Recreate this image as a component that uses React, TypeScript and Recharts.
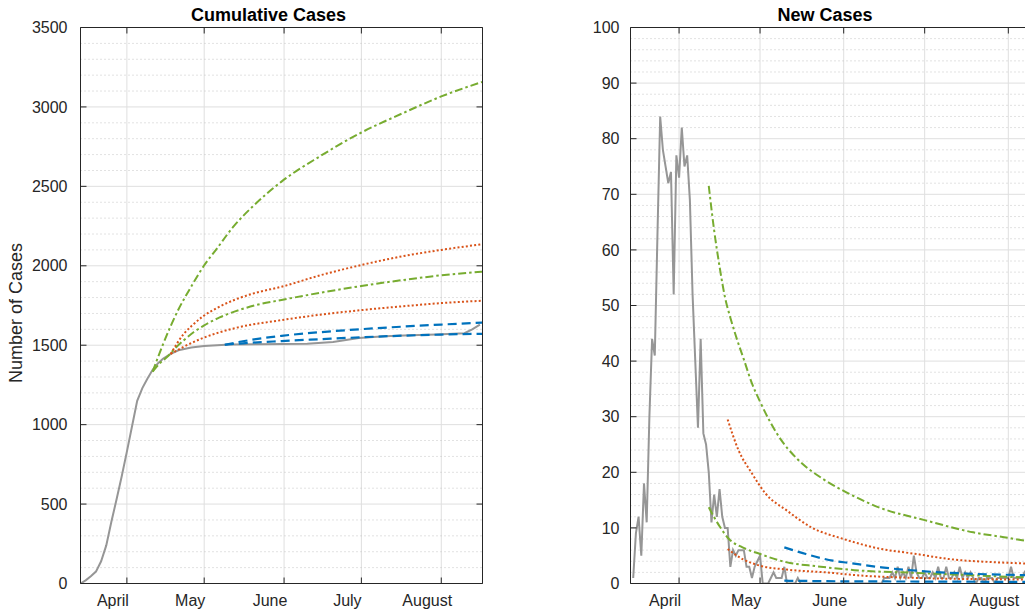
import { LineChart, Line, XAxis, YAxis, CartesianGrid, ReferenceLine } from "recharts";

// t = days since 1 April
const monthTicks = [0, 30, 61, 91, 122];
const monthNames = ["April", "May", "June", "July", "August"];
const dayDomain: [number, number] = [-18, 138];

const cumTicks = [0, 500, 1000, 1500, 2000, 2500, 3000, 3500];
const newTicks = [0, 10, 20, 30, 40, 50, 60, 70, 80, 90, 100];

// observed cumulative cases
const cumObserved: [number, number][] = [
  [-18, 0], [-16, 20], [-14, 45], [-12, 75], [-10, 140], [-8, 240], [-6, 390], [-4, 530],
  [-2, 675], [0, 830], [2, 990], [4, 1150], [6, 1230], [8, 1290], [10, 1345], [12, 1385],
  [14, 1415], [17, 1445], [20, 1468], [25, 1485], [30, 1495], [35, 1500], [40, 1504],
  [50, 1506], [60, 1508], [70, 1510], [80, 1520], [90, 1545], [100, 1556], [110, 1562],
  [120, 1568], [131, 1576], [134, 1600], [137, 1630],
];

// projections, cumulative
const cumGreenHigh: [number, number][] = [
  [10, 1334], [14, 1505], [20, 1725], [25, 1870], [30, 2003], [35, 2110], [41, 2240],
  [49, 2376], [60, 2530], [75, 2690], [91, 2839], [107, 2960], [122, 3066], [138, 3158],
];
const cumGreenLow: [number, number][] = [
  [10, 1334], [13, 1390], [16, 1432], [18, 1468], [22, 1530], [26, 1583], [30, 1625],
  [36, 1675], [42, 1713], [50, 1752], [60, 1785], [75, 1830], [91, 1873], [107, 1910],
  [122, 1940], [138, 1963],
];
const cumOrangeHigh: [number, number][] = [
  [17, 1445], [22, 1570], [25, 1620], [29.5, 1681], [35, 1735], [42, 1787], [50, 1830],
  [60, 1868], [75, 1940], [91, 2005], [107, 2060], [122, 2100], [138, 2136],
];
const cumOrangeLow: [number, number][] = [
  [17, 1445], [22, 1490], [29.5, 1545], [42, 1608], [60, 1658], [75, 1692], [91, 1721],
  [107, 1745], [122, 1765], [138, 1780],
];
const cumBlueHigh: [number, number][] = [
  [38, 1503], [45, 1525], [60, 1559], [75, 1582], [91, 1601], [107, 1617], [122, 1630], [138, 1642],
];
const cumBlueLow: [number, number][] = [
  [38, 1503], [45, 1512], [60, 1526], [75, 1538], [91, 1550], [107, 1560], [122, 1567], [138, 1572],
];

// observed daily new cases, first value is 14 March (t = -17)
const firstDailyDay = -17;
const dailyObserved = [
  1, 9, 12, 5, 18, 11, 30, 44, 41, 63,
  84, 78, 75, 72, 74, 52, 77, 73, 82, 75, 77, 69,
  52, 40, 28, 44, 27, 25, 20, 11, 16, 12, 17, 12, 10, 10,
  3, 6, 5, 6, 6, 6, 3, 3, 1, 3, 4, 5,
  0, 0, 0, 1, 2, 1, 1, 1, 3, 0, 0, 0, 0, 1,
  0, 0, 0, 0, 0, 0, 0, 0, 0, 0, 0, 0, 0, 0, 0, 0, 0, 0, 0, 0, 0, 0, 0, 0, 0, 0, 0, 0, 0, 0, 0,
  1, 1, 1, 2, 1, 3, 1, 2, 1, 3, 1, 5, 2, 1, 1,
  2, 1, 1, 2, 1, 3, 1, 1, 3, 1, 1, 2, 1, 3, 1, 2, 1, 2, 1,
  0, 1, 1, 0, 1, 1, 1, 0, 1, 1, 1, 1, 1, 3, 1, 1, 1, 1, 2,
  1, 1, 2, 4, 8, 12, 14, 12, 8,
];

// projections, daily
const newGreenHigh: [number, number][] = [
  [11, 71.5], [13, 63.5], [15, 57], [17, 51.5], [19, 47.8], [21, 44.6], [24, 40.3], [27, 36],
  [30, 32.7], [37, 26.4], [44, 22.3], [53, 18.9], [62, 16.4], [74, 13.7], [91, 11.4],
  [109, 9.2], [122, 8.2], [128, 7.7], [138, 7.1],
];
const newGreenLow: [number, number][] = [
  [11, 13.7], [15, 10.3], [18.5, 8.0], [23.5, 6.5], [30, 5.3], [40, 3.8], [51, 3.1],
  [65, 2.4], [88, 1.9], [108, 1.5], [128, 1.1], [138, 1.0],
];
const newOrangeHigh: [number, number][] = [
  [18, 29.5], [22, 24], [27, 19.8], [32, 16.2], [40, 13.1], [49, 10.1], [61, 8.0],
  [74, 6.3], [88, 5.3], [100, 4.4], [118, 3.8], [128, 3.6], [138, 3.3],
];
const newOrangeLow: [number, number][] = [
  [18, 6.2], [23.5, 4.4], [30, 3.2], [40, 2.5], [57, 1.9], [63, 1.6], [88, 1.0], [128, 0.7], [138, 0.65],
];
const newBlueHigh: [number, number][] = [
  [39, 6.5], [47, 5.3], [57, 4.1], [63, 3.7], [75, 2.9], [88, 2.3], [106, 1.8], [128, 1.5], [138, 1.4],
];
const newBlueLow: [number, number][] = [
  [39, 0.5], [60, 0.4], [90, 0.35], [128, 0.3], [138, 0.3],
];

const FONT = "'Liberation Sans', Arial, Helvetica, sans-serif";
const TEXT = "#262626";
const AXIS = "#262626";
const GRID = "#dfdfdf";
const MINOR = "#c4c4c4";

const GRAY = "#969696";
const GREEN = "#77AC30";
const ORANGE = "#D95319";
const BLUE = "#0072BD";

const toPts = (pairs: [number, number][]) => pairs.map(([t, v]) => ({ t, v }));

const dailyPts = dailyObserved.map((v, i) => ({ t: firstDailyDay + i, v }));

type Series = { data: { t: number; v: number }[]; color: string; dash?: string; width: number; smooth: boolean };

const cumSeries: Series[] = [
  { data: toPts(cumObserved), color: GRAY, width: 2, smooth: false },
  { data: toPts(cumGreenHigh), color: GREEN, dash: "8 3 2.5 3", width: 2, smooth: true },
  { data: toPts(cumGreenLow), color: GREEN, dash: "8 3 2.5 3", width: 2, smooth: true },
  { data: toPts(cumOrangeHigh), color: ORANGE, dash: "2 2.2", width: 2, smooth: true },
  { data: toPts(cumOrangeLow), color: ORANGE, dash: "2 2.2", width: 2, smooth: true },
  { data: toPts(cumBlueHigh), color: BLUE, dash: "9 5", width: 2.2, smooth: true },
  { data: toPts(cumBlueLow), color: BLUE, dash: "9 5", width: 2.2, smooth: true },
];

const newSeries: Series[] = [
  { data: dailyPts, color: GRAY, width: 2, smooth: false },
  { data: toPts(newGreenHigh), color: GREEN, dash: "8 3 2.5 3", width: 2, smooth: true },
  { data: toPts(newGreenLow), color: GREEN, dash: "8 3 2.5 3", width: 2, smooth: true },
  { data: toPts(newOrangeHigh), color: ORANGE, dash: "2 2.2", width: 2, smooth: true },
  { data: toPts(newOrangeLow), color: ORANGE, dash: "2 2.2", width: 2, smooth: true },
  { data: toPts(newBlueHigh), color: BLUE, dash: "9 5", width: 2.2, smooth: true },
  { data: toPts(newBlueLow), color: BLUE, dash: "9 5", width: 2.2, smooth: true },
];

const BottomTick = (props: any) => {
  const { x, y, payload } = props;
  const i = monthTicks.indexOf(payload.value);
  return (
    <g>
      <line x1={x} x2={x} y1={y} y2={y - 6} stroke={AXIS} />
      <text x={x - 14} y={y + 22} textAnchor="middle" fontSize={16} fill={TEXT} fontFamily={FONT}>
        {monthNames[i]}
      </text>
    </g>
  );
};

const TopTick = (props: any) => (
  <line x1={props.x} x2={props.x} y1={props.y} y2={props.y + 6} stroke={AXIS} />
);

const makeLeftTick = (gap: number) => (props: any) => {
  const { x, y, payload } = props;
  return (
    <g>
      <line x1={x} x2={x + 6} y1={y} y2={y} stroke={AXIS} />
      <text x={x - gap} y={y + 5.7} textAnchor="end" fontSize={16} fill={TEXT} fontFamily={FONT}>
        {payload.value}
      </text>
    </g>
  );
};

const RightTick = (props: any) => (
  <line x1={props.x} x2={props.x - 6} y1={props.y} y2={props.y} stroke={AXIS} />
);

type PanelProps = {
  left: number;
  width: number;
  margin: { top: number; right: number; bottom: number; left: number };
  yMax: number;
  yTicks: number[];
  minorStep: number;
  labelGap: number;
  series: Series[];
};

// axes get a 1px size (a 0 size axis is not drawn), margins are reduced by that pixel
const Panel = ({ left, width, margin, yMax, yTicks, minorStep, labelGap, series }: PanelProps) => {
  const majorStep = yTicks[1] - yTicks[0];
  const minor: number[] = [];
  for (let v = minorStep; v < yMax; v += minorStep) {
    if (Math.abs(v / majorStep - Math.round(v / majorStep)) > 1e-6) minor.push(v);
  }
  const m = { top: margin.top - 1, right: margin.right - 1, bottom: margin.bottom - 1, left: margin.left - 1 };
  return (
    <div style={{ position: "absolute", left, top: 0 }}>
      <LineChart width={width} height={613} margin={m}>
        <CartesianGrid stroke={GRID} strokeWidth={1} />
        {minor.map((v) => (
          <ReferenceLine key={v} y={v} stroke={MINOR} strokeDasharray="1 3" strokeWidth={1} />
        ))}
        <XAxis
          dataKey="t"
          type="number"
          domain={dayDomain}
          allowDataOverflow
          ticks={monthTicks}
          height={1}
          tickSize={0}
          tickMargin={0}
          tickLine={false}
          axisLine={{ stroke: AXIS }}
          tick={BottomTick}
          interval={0}
        />
        <XAxis
          xAxisId="top"
          orientation="top"
          dataKey="t"
          type="number"
          domain={dayDomain}
          allowDataOverflow
          ticks={monthTicks}
          height={1}
          tickSize={0}
          tickMargin={0}
          tickLine={false}
          axisLine={{ stroke: AXIS }}
          tick={TopTick}
          interval={0}
        />
        <YAxis
          type="number"
          domain={[0, yMax]}
          allowDataOverflow
          ticks={yTicks}
          width={1}
          tickSize={0}
          tickMargin={0}
          tickLine={false}
          axisLine={{ stroke: AXIS }}
          tick={makeLeftTick(labelGap)}
          interval={0}
        />
        <YAxis
          yAxisId="right"
          orientation="right"
          type="number"
          domain={[0, yMax]}
          allowDataOverflow
          ticks={yTicks}
          width={1}
          tickSize={0}
          tickMargin={0}
          tickLine={false}
          axisLine={{ stroke: AXIS }}
          tick={RightTick}
          interval={0}
        />
        {series.map((s, i) => (
          <Line
            key={i}
            data={s.data}
            dataKey="v"
            type={s.smooth ? "monotone" : "linear"}
            stroke={s.color}
            strokeWidth={s.width}
            strokeDasharray={s.dash}
            dot={false}
            activeDot={false}
            isAnimationActive={false}
          />
        ))}
      </LineChart>
    </div>
  );
};

export default function App() {
  return (
    <div
      style={{
        position: "absolute",
        left: 0,
        top: 0,
        width: 1025,
        height: 613,
        overflow: "hidden",
        background: "#fff",
        fontFamily: FONT,
      }}
    >
      <Panel
        left={0}
        width={500}
        margin={{ top: 27.5, right: 17.5, bottom: 29.5, left: 80.5 }}
        yMax={3500}
        yTicks={cumTicks}
        minorStep={100}
        labelGap={13}
        series={cumSeries}
      />
      <Panel
        left={580}
        width={500}
        margin={{ top: 27.5, right: 28.5, bottom: 29.5, left: 50.5 }}
        yMax={100}
        yTicks={newTicks}
        minorStep={2}
        labelGap={11}
        series={newSeries}
      />
      <svg
        width={1025}
        height={613}
        style={{ position: "absolute", left: 0, top: 0, pointerEvents: "none" }}
      >
        <text x={268.5} y={21} textAnchor="middle" fontSize={18} fontWeight="bold" fill="#000" fontFamily={FONT}>
          Cumulative Cases
        </text>
        <text x={825} y={21} textAnchor="middle" fontSize={18} fontWeight="bold" fill="#000" fontFamily={FONT}>
          New Cases
        </text>
        <text
          transform="translate(22,313) rotate(-90)"
          textAnchor="middle"
          fontSize={18}
          fill={TEXT}
          fontFamily={FONT}
        >
          Number of Cases
        </text>
      </svg>
    </div>
  );
}
